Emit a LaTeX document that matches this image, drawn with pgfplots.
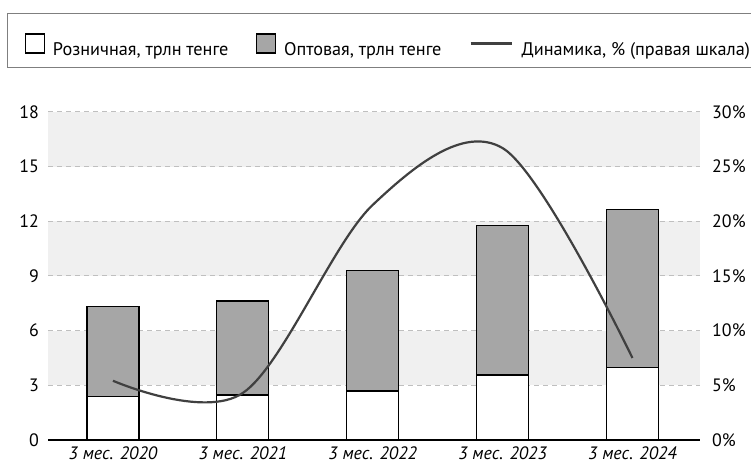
\documentclass[border=0pt]{standalone}
\usepackage{fontspec}
\setmainfont{PT Sans}
\usepackage{pgfplots}
\pgfplotsset{compat=1.18}

\definecolor{bandgray}{HTML}{F0F0F0}
\definecolor{gridgray}{HTML}{BFBFBF}
\definecolor{bargray}{HTML}{A6A6A6}
\definecolor{linegray}{HTML}{404040}
\definecolor{framegray}{HTML}{7F7F7F}

\newcommand{\chartfont}{\fontsize{18}{20}\selectfont}
\newcommand{\legendfont}{\fontsize{18.3}{20}\selectfont}

\pgfplotsset{
  sqlegend/.style={legend image code/.code={
      \draw[##1,line width=1.2bp] (0bp,-3.5bp) rectangle (19bp,15.5bp);
      \path (27bp,5bp);}},
  lnlegend/.style={legend image code/.code={
      \draw[##1] (0bp,6bp) -- (41bp,6bp);
      \path (50bp,6bp);}},
  frame/.style={scale only axis,width=652bp,height=328bp,xmin=-0.5,xmax=4.52},
}

\begin{document}
\begin{tikzpicture}
\useasboundingbox (-48bp,-24bp) rectangle (703bp,440bp);
\draw[framegray,line width=1bp] (712bp,426bp) -- (-40bp,426bp) -- (-40bp,372bp) -- (712bp,372bp);

% background bands
\begin{axis}[frame,ymin=0,ymax=18,hide axis]
  \fill[bandgray] (axis cs:-0.5,3) rectangle (axis cs:4.52,6);
  \fill[bandgray] (axis cs:-0.5,9) rectangle (axis cs:4.52,12);
  \fill[bandgray] (axis cs:-0.5,15) rectangle (axis cs:4.52,18);
\end{axis}

% left axis: stacked bars
\begin{axis}[
    frame,
    ymin=0, ymax=18,
    axis x line*=bottom, axis y line*=left,
    y axis line style={draw=none},
    x axis line style={black,line width=1.3bp},
    xtick={0,...,4},
    xticklabels={3 мес. 2020,3 мес. 2021,3 мес. 2022,3 мес. 2023,3 мес. 2024},
    ytick={0,3,...,18},
    major tick length=0pt,
    ymajorgrids,
    grid style={gridgray,line width=1bp,dash pattern=on 5bp off 4bp},
    /pgf/number format/assume math mode=true,
    yticklabel style={font=\chartfont,inner sep=0pt,xshift=-9bp},
    xticklabel style={font=\chartfont\itshape,inner sep=0pt,yshift=-7bp},
    ybar stacked, bar width=52bp,
]
\addplot[fill=white,draw=black,line width=1.3bp]
  coordinates {(0,2.38) (1,2.47) (2,2.69) (3,3.57) (4,3.97)};
\addplot[fill=bargray,draw=black,line width=1.3bp]
  coordinates {(0,4.94) (1,5.16) (2,6.62) (3,8.19) (4,8.69)};
\end{axis}

% right axis: growth line
\begin{axis}[
    frame,
    ymin=0, ymax=30,
    axis x line=none, axis y line*=right,
    y axis line style={draw=none},
    ytick={0,5,...,30},
    yticklabel={\pgfmathprintnumber{\tick}\%},
    major tick length=0pt,
    /pgf/number format/assume math mode=true,
    yticklabel style={font=\chartfont,inner sep=0pt,xshift=12bp},
    legend columns=3,
    legend style={at={(-0.0353,1.2043)},anchor=west,draw=none,fill=none,
      inner sep=0pt,font=\legendfont,nodes={inner sep=0pt},
      /tikz/every even column/.append style={column sep=28bp}},
    legend cell align=left,
]
\addlegendimage{sqlegend,fill=white,draw=black}
\addlegendentry{Розничная, трлн тенге}
\addlegendimage{sqlegend,fill=bargray,draw=black}
\addlegendentry{Оптовая, трлн тенге}
\addplot[lnlegend,linegray,line width=2.2bp,smooth,tension=0.55]
  coordinates {(0,5.42) (1,4.3) (2,21.5) (3,26.7) (4,7.5)};
\addlegendentry{Динамика, \% (правая шкала)}
\end{axis}
\end{tikzpicture}
\end{document}
